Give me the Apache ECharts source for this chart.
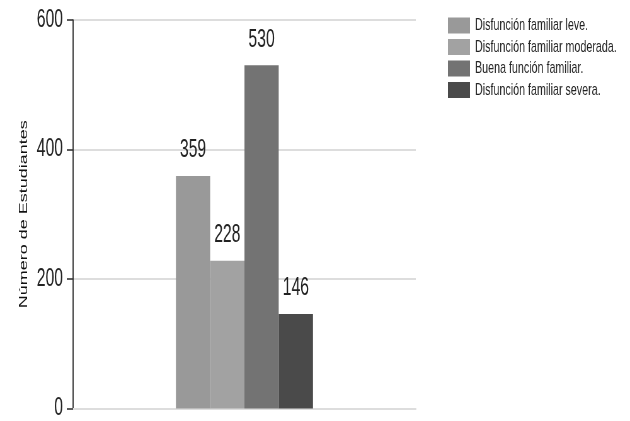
<!DOCTYPE html>
<html><head><meta charset="utf-8">
<script src="https://cdn.jsdelivr.net/npm/echarts@6/dist/echarts.min.js"></script>
<style>
html,body{margin:0;padding:0;background:#fff;overflow:hidden}
#wrap{position:relative;width:630px;height:421px;overflow:hidden}
#c{position:absolute;left:0;top:0;width:1000px;height:421px;transform:scaleX(0.63);transform-origin:0 0}
</style>
</head><body><div id="wrap"><div id="c"></div></div>
<script>
const categories = [''];
const seriesNames = ['Disfunción familiar leve.', 'Disfunción familiar moderada.', 'Buena función familiar.', 'Disfunción familiar severa.'];
const seriesValues = [359, 228, 530, 146];
const seriesColors = ['#999999', '#a2a2a2', '#737373', '#4a4a4a'];
const yTicks = [0, 200, 400, 600];

const font = '"Liberation Sans", Arial, sans-serif';
const chart = echarts.init(document.getElementById('c'), null, {renderer: 'canvas', width: 1000, height: 421});
chart.setOption({
  animation: false,
  grid: {left: 116, right: 340, top: 20, bottom: 7, containLabel: false},
  legend: {
    orient: 'vertical', left: 706, top: 12, itemWidth: 35, itemHeight: 16, itemGap: 4.5,
    icon: 'rect',
    textStyle: {fontFamily: font, fontSize: 17, color: '#222', padding: [0, 0, 0, 3]},
    data: seriesNames
  },
  xAxis: {
    type: 'category', data: categories,
    axisLine: {show: true, lineStyle: {color: '#dddddd', width: 2}},
    axisTick: {show: false}, axisLabel: {show: false}
  },
  yAxis: {
    type: 'value', min: yTicks[0], max: yTicks[yTicks.length - 1], interval: 200,
    name: 'Número de Estudiantes', nameLocation: 'middle', nameGap: 60,
    nameTextStyle: {fontFamily: font, fontSize: 18, color: '#111'},
    axisLine: {show: true, lineStyle: {color: '#111', width: 1.6}},
    axisTick: {show: true, length: 10, lineStyle: {color: '#333', width: 1.6}},
    axisLabel: {fontFamily: font, fontSize: 25, color: '#222', margin: 16},
    splitLine: {show: true, lineStyle: {color: '#dddddd', width: 2}}
  },
  series: seriesNames.map((n, i) => ({
    name: n, type: 'bar',
    data: [seriesValues[i]],
    itemStyle: {color: seriesColors[i]},
    barGap: '0%', barCategoryGap: '60%',
    label: {show: true, position: 'top', distance: 13, fontFamily: font, fontSize: 25, color: '#222'}
  }))
});
</script></body></html>
